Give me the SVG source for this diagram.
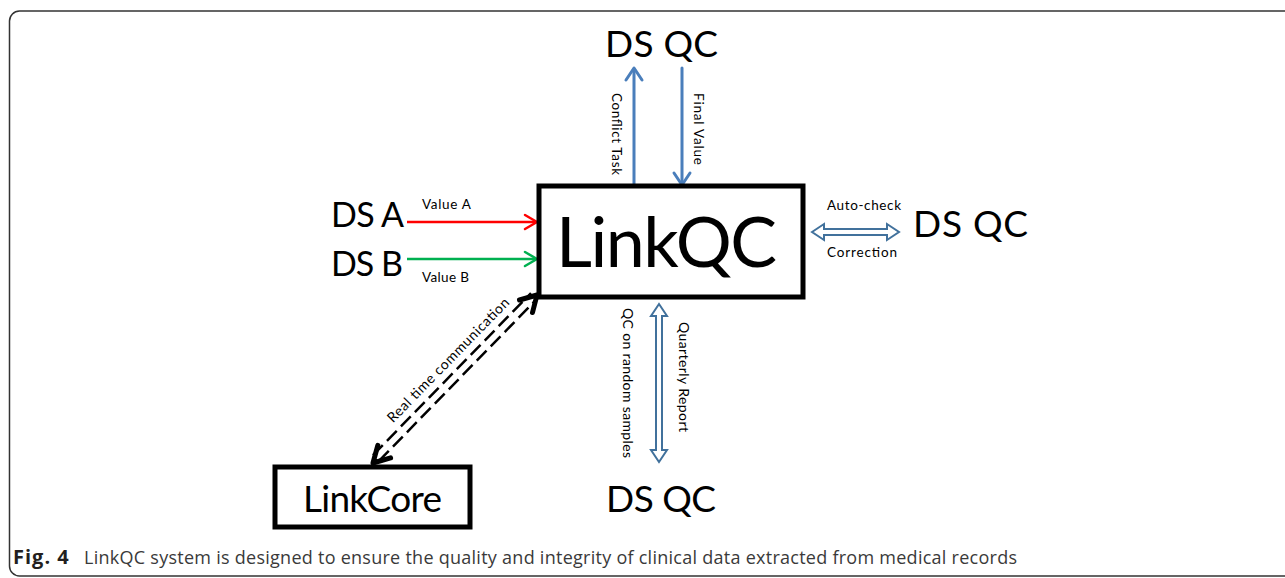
<svg xmlns="http://www.w3.org/2000/svg" width="1285" height="578" viewBox="0 0 1285 578">
<style>
.t{font-family:Lato,"Open Sans","Liberation Sans",sans-serif;fill:#000}
.big{font-size:37px}
.sm{font-size:13.5px}
.lbl{font-size:14px}
.box{fill:#fff;stroke:#000;stroke-width:5}
.blue{stroke:#4a7ebb;stroke-width:3;fill:none;stroke-linecap:round;stroke-linejoin:round}
.dbl{fill:#fff;stroke:#41719c;stroke-width:2;stroke-linejoin:miter}
.dash{stroke:#000;stroke-width:2.5;stroke-dasharray:14 6;fill:none}
.chev{stroke:#000;stroke-width:5;fill:none;stroke-linecap:round;stroke-linejoin:round}
.cap{font-family:"Open Sans","Liberation Sans",sans-serif;font-size:18px}
</style>
<rect width="1285" height="578" fill="#fff"/>
<rect x="9.5" y="11" width="1300" height="565" rx="10" fill="none" stroke="#333" stroke-width="1.5"/>

<g id="connectors">
  <line x1="407" y1="222" x2="536" y2="222" stroke="#ff0000" stroke-width="2.5"/>
  <polyline points="525,215 537,222 525,229" fill="none" stroke="#ff0000" stroke-width="2.5" stroke-linecap="round" stroke-linejoin="round"/>
  <line x1="407" y1="259" x2="536" y2="259" stroke="#00b050" stroke-width="2.5"/>
  <polyline points="525,252 537,259 525,266" fill="none" stroke="#00b050" stroke-width="2.5" stroke-linecap="round" stroke-linejoin="round"/>
  <line class="blue" x1="634" y1="186" x2="634" y2="69"/>
  <polyline class="blue" points="626,80 634,68 642,80"/>
  <line class="blue" x1="682" y1="68" x2="682" y2="184"/>
  <polyline class="blue" points="674,173 682,185 690,173"/>
  <polygon class="dbl" points="812,232 824,224 824,229 887,229 887,224 899,232 887,240 887,235 824,235 824,240"/>
  <polygon class="dbl" points="659,304 651,316 656,316 656,450 651,450 659,462 667,450 662,450 662,316 667,316"/>
  <line class="dash" x1="376" y1="458" x2="534" y2="296" transform="translate(3,2.9)"/>
  <line class="dash" x1="376" y1="458" x2="534" y2="296" transform="translate(-3,-2.9)"/>
  <polyline class="chev" points="519.5,300 537,295 532.5,312.5"/>
  <polyline class="chev" points="377.8,445.3 373,463 390.6,457.9"/>
</g>

<g id="labels">
  <text class="t sm" x="422" y="209" textLength="49">Value A</text>
  <text class="t sm" x="422" y="282" textLength="47">Value B</text>
  <text class="t sm" x="827" y="210" textLength="74">Auto-check</text>
  <text class="t sm" x="827" y="257" textLength="70">Correction</text>
  <text class="t sm" x="612" y="134" text-anchor="middle" textLength="82" transform="rotate(90 612 134)">Conflict Task</text>
  <text class="t sm" x="694" y="129" text-anchor="middle" textLength="72" transform="rotate(90 694 129)">Final Value</text>
  <text class="t lbl" x="622.5" y="383" text-anchor="middle" textLength="150" transform="rotate(90 622.5 383)">QC on random samples</text>
  <text class="t lbl" x="678.5" y="377" text-anchor="middle" textLength="110" transform="rotate(90 678.5 377)">Quarterly Report</text>
  <text class="t lbl" x="451.6" y="363.5" text-anchor="middle" textLength="168" transform="rotate(-45.7 451.6 363.5)">Real time communication</text>
</g>

<g id="linkqc">
  <rect class="box" x="539" y="186" width="264" height="111"/>
  <text class="t" x="556" y="267" font-size="70" textLength="221">LinkQC</text>
</g>
<g id="linkcore">
  <rect class="box" x="275" y="467" width="195" height="60"/>
  <text class="t big" x="303" y="512" textLength="139">LinkCore</text>
</g>
<g id="dsa"><text class="t" font-size="34" x="331" y="227" textLength="73">DS A</text></g>
<g id="dsb"><text class="t" font-size="34" x="331" y="276" textLength="72">DS B</text></g>
<g id="dsqc-top"><text class="t big" x="605" y="57" textLength="113">DS QC</text></g>
<g id="dsqc-right"><text class="t big" x="913" y="237" textLength="115">DS QC</text></g>
<g id="dsqc-bottom"><text class="t big" x="606" y="512" textLength="110">DS QC</text></g>

<g id="caption">
  <text class="cap" x="13" y="564"><tspan font-weight="bold" fill="#231f20" font-size="20" letter-spacing="1">Fig. 4</tspan><tspan fill="#3a3a3a" x="84" textLength="933">LinkQC system is designed to ensure the quality and integrity of clinical data extracted from medical records</tspan></text>
</g>
</svg>
